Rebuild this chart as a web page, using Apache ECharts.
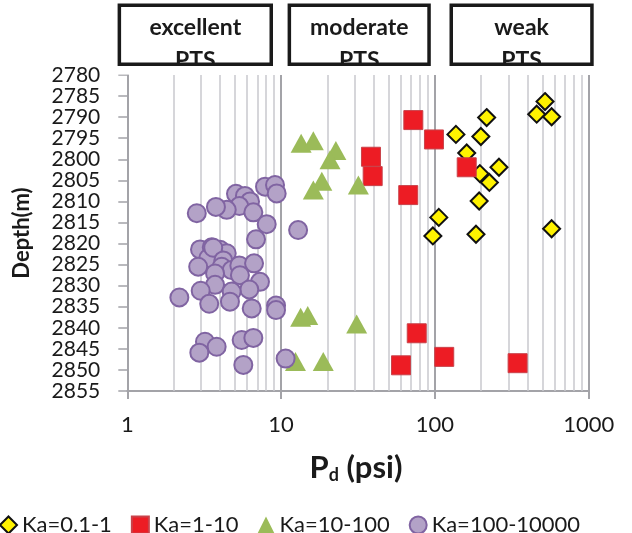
<!DOCTYPE html>
<html>
<head>
<meta charset="utf-8">
<style>
  html, body { margin: 0; padding: 0; background: #fff; }
  #chart { width: 632px; height: 533px; }
</style>
<script src="https://cdn.jsdelivr.net/npm/echarts@6/dist/echarts.min.js"></script>
</head>
<body>
<div id="chart"></div>
<script>
// Displacement pressure Pd (psi) vs depth (m), grouped by air permeability class
const seriesNames = ['Ka=0.1-1', 'Ka=1-10', 'Ka=10-100', 'Ka=100-10000'];

// [Pd (psi), depth (m)]
const ka01to1 = [
  [520, 2786.3], [459, 2789.3], [574, 2789.9], [217, 2790.1], [137, 2794.1],
  [199, 2794.6], [161, 2798.5], [196, 2803.4], [261, 2801.9], [226, 2805.5],
  [194, 2809.9], [106, 2813.8], [97, 2818.2], [185, 2817.8], [574, 2816.5]
];
const ka1to10 = [
  [72.4, 2790.7], [98.6, 2795.3], [38.4, 2799.4], [39.4, 2804.0], [67.1, 2808.5],
  [161, 2801.9], [76.2, 2841.3], [60.2, 2848.9], [115, 2846.9], [345, 2848.4]
];
const ka10to100 = [
  [13.5, 2796.2], [16.2, 2795.6], [22.7, 2797.9], [20.8, 2800.1], [18.4, 2805.2],
  [16.2, 2807.3], [31.8, 2806.1], [13.4, 2837.5], [14.9, 2837.1], [31.0, 2839.1],
  [12.4, 2848.0], [18.8, 2848.0]
];
const ka100to10000 = [
  [7.86, 2806.5], [9.13, 2806.1], [9.36, 2808.1], [5.09, 2808.2], [5.82, 2808.7],
  [6.28, 2810.0], [5.35, 2811.1], [4.43, 2812.0], [3.77, 2811.3], [2.83, 2812.8],
  [6.60, 2812.6], [8.06, 2815.4], [6.87, 2819.0], [12.9, 2816.8],
  [2.97, 2821.4], [3.54, 2820.9], [4.01, 2821.5], [4.43, 2822.3], [3.81, 2823.5],
  [3.36, 2823.5], [3.62, 2821.0], [4.21, 2824.0], [2.89, 2825.5], [4.11, 2825.5],
  [4.77, 2826.3], [5.35, 2825.2], [6.67, 2824.7], [5.40, 2827.5], [3.72, 2827.1],
  [3.72, 2829.8], [7.29, 2829.1], [6.21, 2830.9], [4.77, 2831.4], [3.00, 2831.2],
  [2.18, 2832.8], [3.41, 2834.3], [4.65, 2833.8], [6.44, 2835.4], [9.27, 2834.7],
  [9.27, 2835.8], [3.20, 2843.3], [3.81, 2844.5], [2.94, 2845.9], [5.54, 2842.9],
  [6.60, 2842.4], [5.68, 2848.8], [10.7, 2847.3]
];

// Axis settings
const depthMin = 2780, depthMax = 2855, depthStep = 5;
const pdMin = 1, pdMax = 1000;
const minorGridValues = [2, 3, 4, 5, 6, 7, 8, 9, 20, 30, 40, 50, 60, 70, 80, 90,
                         200, 300, 400, 500, 600, 700, 800, 900];

// Pore throat size classes shown above the plot
const ptsClasses = ['excellent', 'moderate', 'weak'];
const ptsSuffix = 'PTS';

const FONT = 'Lato';
const TEXT = '#1a1a1a';
const AXIS_GREY = '#a3a3a8';

const chart = echarts.init(document.getElementById('chart'), null, { renderer: 'canvas' });

// Class boxes across the top; the second line is tucked under the box border
const boxSpans = [[117.6, 273], [287.6, 430.8], [449.5, 593.7]];
const graphics = [];
ptsClasses.forEach((name, i) => {
  const [x0, x1] = boxSpans[i];
  const cx = (x0 + x1) / 2;
  graphics.push({
    type: 'text', z: 10, x: cx, y: 28,
    style: { text: name, fill: TEXT, font: 'bold 23px ' + FONT, align: 'center', verticalAlign: 'middle' }
  });
  graphics.push({
    type: 'text', z: 10, x: cx, y: 61,
    style: { text: ptsSuffix, fill: TEXT, font: 'bold 23px ' + FONT, align: 'center', verticalAlign: 'middle' }
  });
  graphics.push({
    type: 'rect', z: 11, shape: { x: x0 - 2, y: 65.5, width: x1 - x0 + 4, height: 9 },
    style: { fill: '#fff' }
  });
  graphics.push({
    type: 'rect', z: 12, shape: { x: x0 + 1.75, y: 5.2, width: x1 - x0 - 3.5, height: 59 },
    style: { fill: 'none', stroke: '#1a1a1a', lineWidth: 3.5 }
  });
});
// x axis title with subscript
graphics.push({
  type: 'text', z: 10, x: 356, y: 468,
  style: {
    text: '{p|P}{d|d}{u| (psi)}',
    align: 'center', verticalAlign: 'middle',
    rich: {
      p: { font: 'bold 31px ' + FONT, fill: TEXT },
      d: { font: 'bold 18px ' + FONT, fill: TEXT, padding: [14, 0, 0, 0] },
      u: { font: 'bold 31px ' + FONT, fill: TEXT }
    }
  }
});

const plain = v => String(v);

const option = {
  animation: false,
  backgroundColor: '#fff',
  grid: { left: 127.3, right: 43.3, top: 75, bottom: 142, containLabel: false },
  xAxis: {
    type: 'log', logBase: 10, min: pdMin, max: pdMax,
    axisLine: { show: true, lineStyle: { color: AXIS_GREY, width: 2 } },
    axisTick: { show: true, length: 8, lineStyle: { color: AXIS_GREY, width: 2 } },
    axisLabel: { fontSize: 22, fontFamily: FONT, color: TEXT, margin: 23, formatter: plain },
    splitLine: { show: true, lineStyle: { color: AXIS_GREY, width: 2 } }
  },
  yAxis: {
    type: 'value', inverse: true, min: depthMin, max: depthMax, interval: depthStep,
    name: 'Depth(m)', nameLocation: 'middle', nameGap: 94, nameRotate: 90,
    nameTextStyle: { fontSize: 22, fontWeight: 'bold', fontFamily: FONT, color: TEXT },
    axisLine: { show: true, lineStyle: { color: AXIS_GREY, width: 2 } },
    axisTick: { show: true, length: 9, lineStyle: { color: AXIS_GREY, width: 1.5 } },
    axisLabel: { fontSize: 21, lineHeight: 17, fontFamily: FONT, color: TEXT, margin: 27, formatter: plain },
    splitLine: { show: false }
  },
  legend: {
    data: seriesNames,
    left: -6, top: 509,
    itemWidth: 17, itemHeight: 17, itemGap: 19,
    textStyle: { fontSize: 22, fontFamily: FONT, color: TEXT, padding: [0, 0, 0, 0] }
  },
  graphic: graphics,
  series: [
    {
      // minor log gridlines, kept beneath the markers
      name: 'grid', type: 'scatter', data: [], z: 1, silent: true,
      markLine: {
        silent: true, symbol: 'none', animation: false, z: 1,
        label: { show: false },
        lineStyle: { color: '#c9c9ce', width: 1.5, type: 'solid' },
        emphasis: { disabled: true },
        data: minorGridValues.map(v => ({ xAxis: v }))
      }
    },
    {
      name: seriesNames[0], type: 'scatter', data: ka01to1, z: 3,
      symbol: 'diamond', symbolSize: 17,
      itemStyle: { color: '#fff200', borderColor: '#111', borderWidth: 2, opacity: 1 }
    },
    {
      name: seriesNames[1], type: 'scatter', data: ka1to10, z: 4,
      symbol: 'rect', symbolSize: 19,
      itemStyle: { color: '#ed1c24', borderColor: '#c9424a', borderWidth: 1, opacity: 1 }
    },
    {
      name: seriesNames[2], type: 'scatter', data: ka10to100, z: 5,
      symbol: 'triangle', symbolSize: [21, 19],
      itemStyle: { color: '#9bbb59', opacity: 1 }
    },
    {
      name: seriesNames[3], type: 'scatter', data: ka100to10000, z: 6,
      symbol: 'circle', symbolSize: 18,
      itemStyle: { color: '#b3a2c7', borderColor: '#8064a2', borderWidth: 2, opacity: 1 }
    }
  ]
};

chart.setOption(option);
</script>
</body>
</html>
